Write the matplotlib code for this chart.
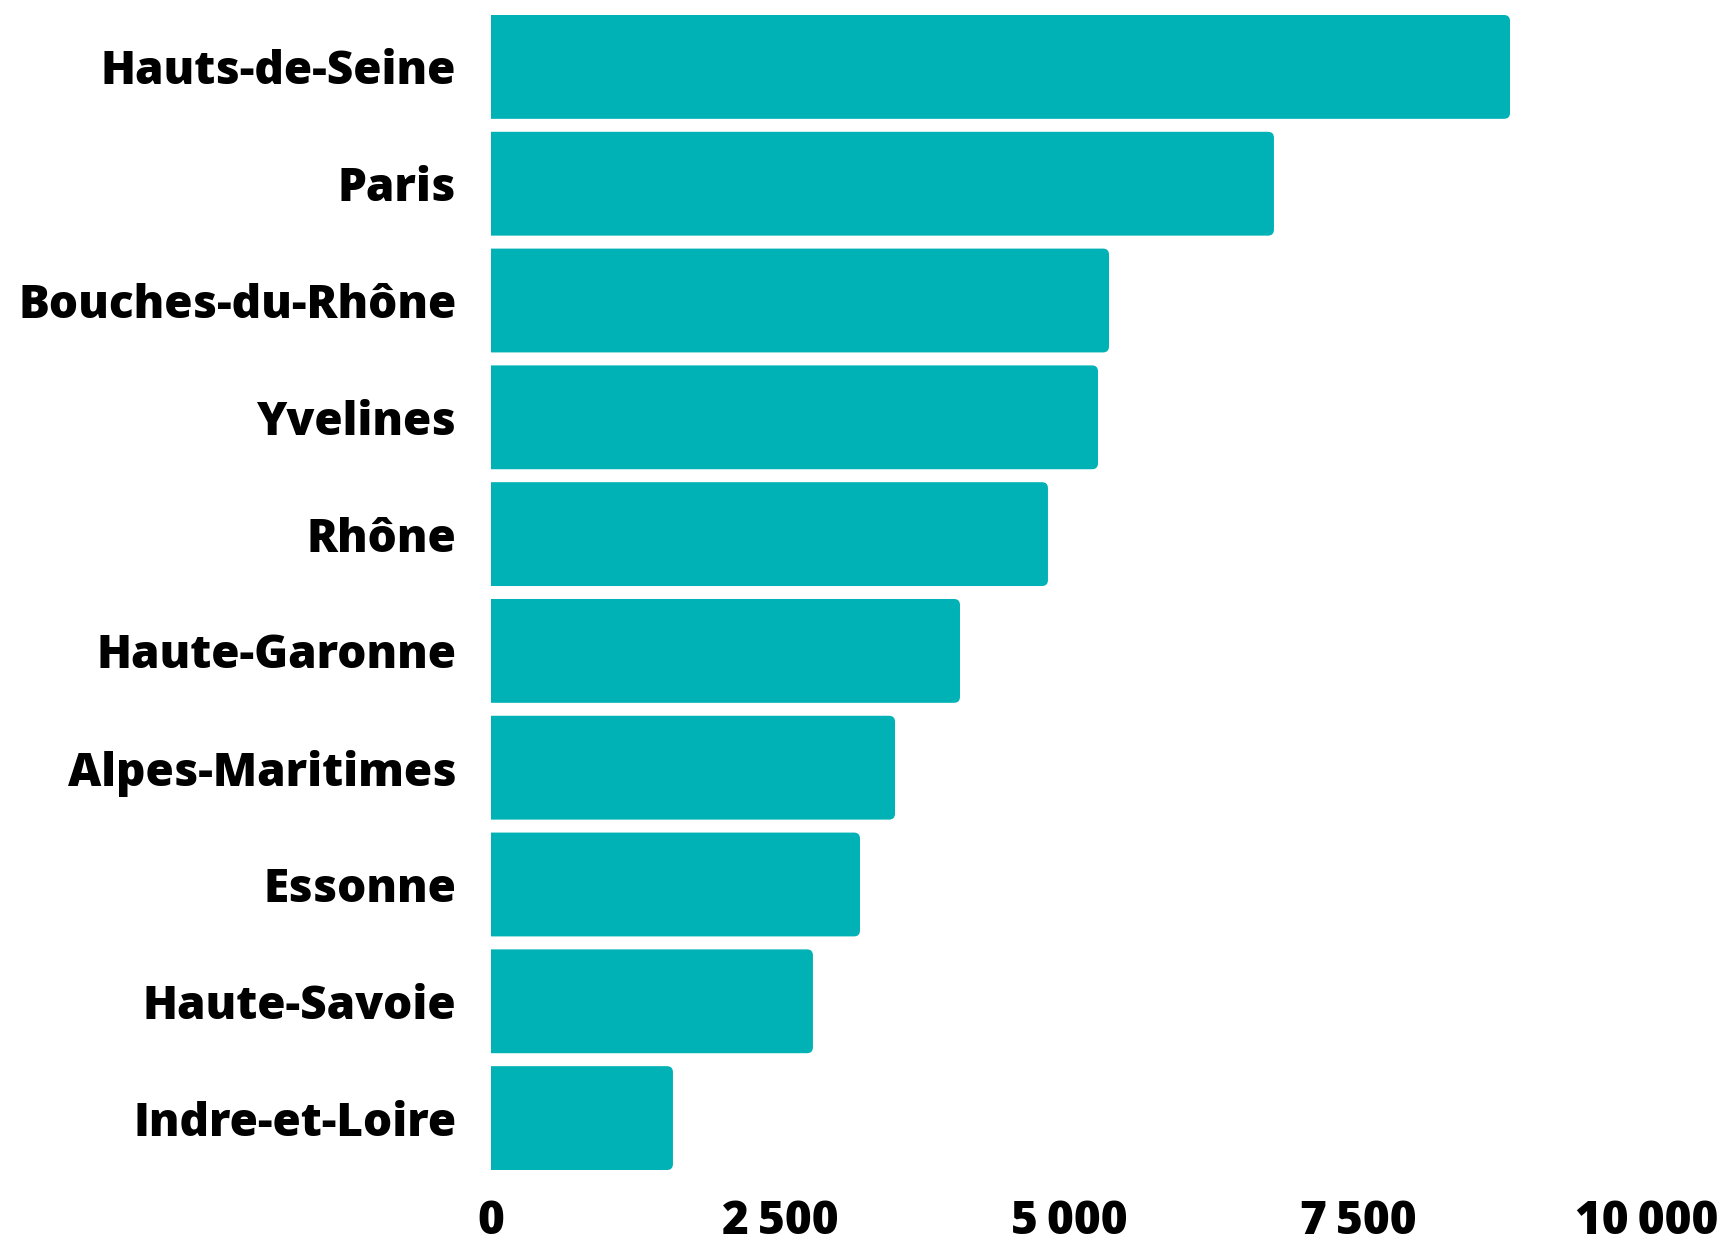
import matplotlib
matplotlib.use("Agg")
import matplotlib.pyplot as plt
from matplotlib.patches import FancyBboxPatch
from matplotlib.ticker import FuncFormatter

departements = [
    "Hauts-de-Seine", "Paris", "Bouches-du-Rhône", "Yvelines", "Rhône",
    "Haute-Garonne", "Alpes-Maritimes", "Essonne", "Haute-Savoie", "Indre-et-Loire",
]
valeurs = [8815, 6773, 5346, 5251, 4818, 4057, 3495, 3192, 2785, 1574]
graduations = [0, 2500, 5000, 7500, 10000]

couleur = "#00B2B5"
plt.rcParams["font.family"] = ["Open Sans", "DejaVu Sans"]

W, H, DPI = 1722, 1241, 100
fig = plt.figure(figsize=(W / DPI, H / DPI), dpi=DPI)
ax_left, ax_right = 491 / W, 1647 / W
ax_top, ax_bottom = 1 - 15 / H, 1 - 1170 / H
ax = fig.add_axes([ax_left, ax_bottom, ax_right - ax_left, ax_top - ax_bottom])

hauteur = 0.889
pos = list(range(len(departements)))
bars = ax.barh(pos, valeurs, height=hauteur, color=couleur)

ax.set_xlim(0, 10000)
ax.set_ylim(len(departements) - 1 + hauteur / 2, -hauteur / 2)

# rounded right ends: rebuild each bar as a rounded box, left side hidden behind the axis edge
fig.canvas.draw()
px_per_x = ax.transData.transform((1, 0))[0] - ax.transData.transform((0, 0))[0]
px_per_y = abs(ax.transData.transform((0, 1))[1] - ax.transData.transform((0, 0))[1])
rayon_px = 6
rx = rayon_px / px_per_x
aspect = px_per_x / px_per_y
for rect in bars:
    x, y = rect.get_x(), rect.get_y()
    w, h = rect.get_width(), rect.get_height()
    rect.set_visible(False)
    box = FancyBboxPatch((x - 2 * rx, y), w + 2 * rx, h,
                         boxstyle=f"round,pad=0,rounding_size={rx}",
                         mutation_aspect=aspect,
                         facecolor=couleur, edgecolor="none", clip_on=True)
    ax.add_patch(box)

ax.set_yticks(pos)
ax.set_yticklabels(departements)
ax.set_xticks(graduations)
ax.xaxis.set_major_formatter(FuncFormatter(lambda v, _: f"{int(v):,}".replace(",", "\u2009")))

for lab in ax.get_yticklabels() + ax.get_xticklabels():
    lab.set_fontsize(33)
    lab.set_fontweight(800)
    lab.set_color("black")

ax.tick_params(axis="y", length=0, pad=25)
ax.tick_params(axis="x", length=0, pad=21)
for s in ax.spines.values():
    s.set_visible(False)

fig.savefig("out.png", dpi=DPI)
